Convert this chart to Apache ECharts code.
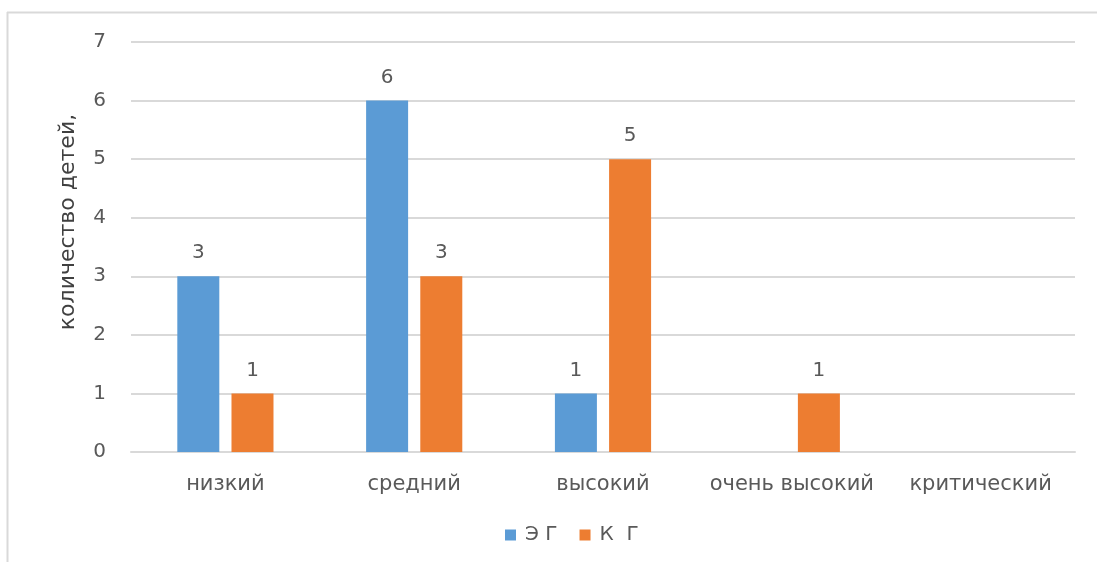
<!DOCTYPE html>
<html>
<head>
<meta charset="utf-8">
<script src="https://cdn.jsdelivr.net/npm/echarts@6/dist/echarts.min.js"></script>
<style>
  html, body { margin: 0; padding: 0; background: #fff; }
  #chart { width: 1097px; height: 562px; }
</style>
</head>
<body>
<div id="chart"></div>
<script>
// Levels on the category axis
const categories = ['низкий', 'средний', 'высокий', 'очень высокий', 'критический'];
// Number of children per level, for each group
const egValues = [3, 6, 1, null, null];
const kgValues = [1, 3, 5, 1, null];
const seriesNames = ['Э Г', 'К  Г'];
const yAxisTitle = 'количество детей,';

const FONT = '"DejaVu Sans", "Open Sans", sans-serif';
const TEXT = '#595959';

const chart = echarts.init(document.getElementById('chart'), null, { renderer: 'canvas' });

const labelStyle = {
  show: true,
  position: 'top',
  distance: 13,
  color: TEXT,
  fontFamily: FONT,
  fontSize: 20
};

chart.setOption({
  animation: false,
  backgroundColor: '#fff',
  grid: { left: 131, right: 22, top: 42, bottom: 110, containLabel: false },
  legend: {
    bottom: 12,
    left: 500,
    itemWidth: 11,
    itemHeight: 11,
    itemGap: 22,
    icon: 'rect',
    textStyle: { color: TEXT, fontFamily: FONT, fontSize: 20, padding: [0, 0, 0, 4] },
    data: seriesNames
  },
  xAxis: {
    type: 'category',
    data: categories,
    axisLine: { show: true, lineStyle: { color: '#d9d9d9', width: 2 } },
    axisTick: { show: false },
    axisLabel: {
      color: TEXT, fontFamily: FONT, fontSize: 21, margin: 22,
      interval: 0, hideOverlap: false
    }
  },
  yAxis: {
    type: 'value',
    min: 0,
    max: 7,
    interval: 1,
    axisLine: { show: false },
    axisTick: { show: false },
    axisLabel: { color: TEXT, fontFamily: FONT, fontSize: 20, margin: 25 },
    splitLine: { lineStyle: { color: '#d9d9d9', width: 2 } }
  },
  series: [
    {
      name: seriesNames[0],
      type: 'bar',
      data: egValues,
      barWidth: 42,
      barGap: '29%',
      itemStyle: { color: '#5B9BD5' },
      label: labelStyle
    },
    {
      name: seriesNames[1],
      type: 'bar',
      data: kgValues,
      barWidth: 42,
      barGap: '29%',
      itemStyle: { color: '#ED7D31' },
      label: labelStyle
    }
  ],
  graphic: [
    {
      type: 'line',
      shape: { x1: 7, y1: 12.5, x2: 1097, y2: 12.5 },
      style: { stroke: '#d9d9d9', lineWidth: 2 }
    },
    {
      type: 'line',
      shape: { x1: 7.5, y1: 12, x2: 7.5, y2: 562 },
      style: { stroke: '#d9d9d9', lineWidth: 2 }
    },
    {
      type: 'text',
      x: 68,
      y: 222,
      rotation: Math.PI / 2,
      style: {
        text: yAxisTitle,
        fill: '#404040',
        font: '22px ' + FONT,
        align: 'center',
        verticalAlign: 'middle'
      }
    }
  ]
});
</script>
</body>
</html>
